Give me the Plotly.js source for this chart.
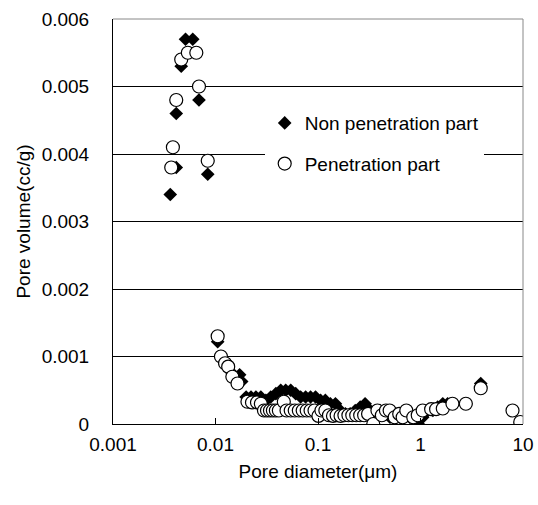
<!DOCTYPE html>
<html>
<head>
<meta charset="utf-8">
<script src="https://cdn.plot.ly/plotly-3.0.1.min.js"></script>
<style>html,body{margin:0;padding:0;background:#fff;}#chart{width:538px;height:505px;}</style>
</head>
<body>
<div id="chart"></div>
<script>
// Non penetration part (filled diamonds)
const nonPenX = [0.00362,0.00414,0.00414,0.00463,0.0051,0.0060,0.0069,0.0084,
  0.0105,0.0113,0.0124,0.0146,0.0172,0.0180,
  0.0199,0.0222,0.0248,0.0277,0.0310,0.0346,0.0388,0.0433,0.0484,0.0542,0.0606,0.0677,0.0757,0.0846,0.0946,
  0.106,0.118,0.132,0.148,0.165,0.185,0.206,0.231,0.258,0.288,0.323,0.361,0.403,0.450,0.504,0.563,0.630,0.704,0.787,0.880,0.95,
  1.05,1.18,1.32,1.47,1.65,1.84,3.87];
const nonPenY = [0.0034,0.0038,0.0046,0.0053,0.0057,0.0057,0.0048,0.0037,
  0.00122,0.00100,0.00088,0.00075,0.00073,0.00063,
  0.0004,0.0004,0.0004,0.0004,0.00035,0.0004,0.00045,0.0005,0.0005,0.0005,0.00045,0.0004,0.0004,0.0004,0.0004,
  0.00035,0.00035,0.0003,0.0003,0.0002,0.00015,0.00015,0.0002,0.00025,0.0003,0.0002,0.00015,0.0002,0.00015,0.0001,0.0001,0.0001,0.00015,0.0001,0.00005,0.0,
  0.0001,0.0002,0.0002,0.00025,0.0003,0.0003,0.0006];

// Penetration part (open circles)
const penX = [0.00370,0.00384,0.00414,0.00463,0.00537,0.0065,0.0069,0.0084,
  0.0105,0.0113,0.0124,0.0133,0.0146,0.0164,
  0.0205,0.0227,0.0254,0.0277,0.0297,0.0318,0.0340,0.0363,0.0388,0.0415,0.0464,0.0493,0.0542,0.0593,0.065,0.0709,0.0776,0.0846,0.0925,
  0.101,0.108,0.118,0.128,0.140,0.152,0.166,0.181,0.198,0.216,0.236,0.258,0.282,0.308,0.346,0.38,0.42,0.46,0.50,0.56,0.62,0.67,0.727,0.85,0.94,
  1.05,1.27,1.42,1.65,2.05,2.77,3.87,7.9,9.4];
const penY = [0.0038,0.0041,0.0048,0.0054,0.0055,0.0055,0.0050,0.0039,
  0.0013,0.0010,0.0009,0.00085,0.0007,0.0006,
  0.00033,0.00032,0.00032,0.0003,0.0002,0.0002,0.0002,0.0002,0.0002,0.0002,0.00033,0.0002,0.0002,0.0002,0.0002,0.0002,0.0002,0.0002,0.0002,
  0.00012,0.0002,0.0002,0.00013,0.00012,0.00013,0.00012,0.00013,0.00013,0.00013,0.00013,0.00013,0.00013,0.00015,0.0,0.0002,0.00013,0.0002,0.0002,0.0001,0.00015,0.0001,0.0002,0.0001,0.00013,
  0.0002,0.00022,0.00022,0.00023,0.0003,0.0003,0.00053,0.0002,0.00003];

const xTickVals = [0.001,0.01,0.1,1,10];
const xTickText = ['0.001','0.01','0.1','1','10'];
const yTickVals = [0,0.001,0.002,0.003,0.004,0.005,0.006];
const yTickText = ['0','0.001','0.002','0.003','0.004','0.005','0.006'];

const FONT = 'Arial, "Liberation Sans", sans-serif';
const FS = 19;

const traces = [
  {x: nonPenX, y: nonPenY, type: 'scatter', mode: 'markers', name: 'Non penetration part', legendgroup: 'a',
   marker: {symbol: 'diamond', size: 10.5, color: '#000', line: {width: 0}}},
  {x: penX, y: penY, type: 'scatter', mode: 'markers', name: 'Penetration part', legendgroup: 'b',
   marker: {symbol: 'circle', size: 13, color: '#fff', line: {width: 1.2, color: '#000'}}}
];

const layout = {
  width: 538, height: 505,
  margin: {l: 113, r: 15, t: 19, b: 81},
  paper_bgcolor: '#fff', plot_bgcolor: '#fff',
  font: {family: FONT, size: FS, color: '#000'},
  showlegend: true,
  legend: {x: 0.37, y: 0.79, xanchor: 'left', yanchor: 'top', bgcolor: '#fff',
    font: {family: FONT, size: FS, color: '#000'}, tracegroupgap: 13, traceorder: 'grouped', itemwidth: 30},
  xaxis: {type: 'log', range: [-3, 1], tickvals: xTickVals, ticktext: xTickText,
    showgrid: false, zeroline: false, showline: true, linecolor: '#000', linewidth: 1,
    ticks: 'inside', ticklen: 6, tickcolor: '#000', ticklabelstandoff: 3,
    tickfont: {family: FONT, size: FS, color: '#000'},
    title: {text: 'Pore diameter(μm)', font: {family: FONT, size: FS, color: '#000'}, standoff: 10}},
  yaxis: {range: [0, 0.006], tickvals: yTickVals, ticktext: yTickText,
    showgrid: true, gridcolor: '#000', gridwidth: 1, zeroline: false,
    showline: true, linecolor: '#000', linewidth: 1, ticks: '', ticklabelstandoff: 19,
    tickfont: {family: FONT, size: FS, color: '#000'},
    title: {text: 'Pore volume(cc/g)', font: {family: FONT, size: FS, color: '#000'}, standoff: 6}},
  shapes: [
    {type: 'line', xref: 'paper', yref: 'paper', x0: 1, x1: 1, y0: 0, y1: 1, line: {color: '#888', width: 1}},
    {type: 'line', xref: 'paper', yref: 'paper', x0: 0, x1: 1, y0: 1, y1: 1, line: {color: '#888', width: 1}}
  ]
};

Plotly.newPlot('chart', traces, layout, {staticPlot: true, displayModeBar: false});
</script>
</body>
</html>
